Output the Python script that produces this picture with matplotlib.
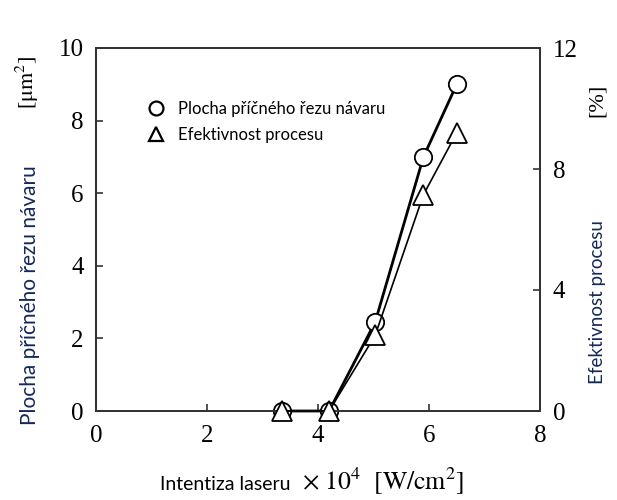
import matplotlib
matplotlib.use("Agg")
import matplotlib.pyplot as plt
from matplotlib.lines import Line2D

# data
intensity = [3.35, 4.2, 5.03, 5.9, 6.5]          # x 10^4 W/cm2
area = [0.0, 0.0, 2.45, 7.0, 9.0]                # um^2 (left axis)
intensity_eff = [3.35, 4.2, 5.03, 5.9, 6.5]
efficiency = [0.0, 0.0, 2.5, 7.15, 9.2]          # % (right axis)

xticks = [0, 2, 4, 6, 8]
yticks_left = [0, 2, 4, 6, 8, 10]
yticks_right = [0, 4, 8, 12]

serif = ["Liberation Serif", "DejaVu Serif"]
sans = ["Lato", "Noto Sans", "DejaVu Sans"]
navy = "#14285a"

fig = plt.figure(figsize=(6.17, 5.0), dpi=100)
ax = fig.add_axes([96 / 617, 89 / 500, 444 / 617, 363 / 500])
ax2 = ax.twinx()

ax.plot(intensity, area, color="black", lw=2.0, marker="o", ms=12.5,
        mfc="white", mec="black", mew=1.3, label="Plocha příčného řezu návaru", zorder=3)
ax2.plot(intensity_eff, efficiency, color="black", lw=1.2, marker="^", ms=14,
         mfc="white", mec="black", mew=1.3, label="Efektivnost procesu", zorder=3)

ax.set_xlim(0, 8)
ax.set_ylim(0, 10)
ax2.set_ylim(0, 12)
ax.set_xticks(xticks)
ax.set_yticks(yticks_left)
ax2.set_yticks(yticks_right)

for a in (ax, ax2):
    for s in a.spines.values():
        s.set_color("#333333")
        s.set_linewidth(1.4)

ax.tick_params(axis="both", direction="in", length=5, width=1.2, color="#333333",
               labelsize=18, pad=9)
ax.tick_params(axis="x", top=False, pad=10)
ax2.tick_params(axis="y", direction="in", length=5, width=1.2, color="#333333",
                labelsize=18, pad=9)
for lab in ax.get_xticklabels() + ax.get_yticklabels() + ax2.get_yticklabels():
    lab.set_family(serif)

# only inner ticks are drawn in the reference
for axis in (ax.xaxis, ax.yaxis, ax2.yaxis):
    ticks = axis.get_major_ticks()
    for t in (ticks[0], ticks[-1]):
        t.tick1line.set_visible(False)
        t.tick2line.set_visible(False)

for line in ax.get_lines() + ax2.get_lines():
    line.set_clip_on(False)

# legend
h1, l1 = ax.get_legend_handles_labels()
h2, l2 = ax2.get_legend_handles_labels()
hh = [Line2D([], [], ls="none", marker="o", ms=10, mfc="white", mec="black", mew=1.6),
      Line2D([], [], ls="none", marker="^", ms=10, mfc="white", mec="black", mew=1.6)]
leg = ax2.legend(hh, l1 + l2, loc="upper left", bbox_to_anchor=(133 / 617, 1 - 86 / 500),
                 bbox_transform=fig.transFigure, frameon=False, handlelength=1.0,
                 handletextpad=0.8, labelspacing=0.6, prop={"family": sans, "size": 12})

# axis labels
fig.text(30 / 617, 1 - 295 / 500, "Plocha příčného řezu návaru", rotation=90, ha="center",
         va="center", family=sans, fontsize=15, color=navy)
fig.text(27 / 617, 1 - 82 / 500, r"[$\mathrm{\mu m^2}$]", rotation=90, ha="center",
         va="center", family=serif, fontsize=16, math_fontfamily="stix")
fig.text(598 / 617, 1 - 302 / 500, "Efektivnost procesu", rotation=90, ha="center",
         va="center", family=sans, fontsize=13.5, color=navy)
fig.text(597 / 617, 1 - 100 / 500, "[%]", rotation=90, ha="center", va="center",
         family=serif, fontsize=16)
fig.text(290 / 617, 1 - 485 / 500, "Intentiza laseru", ha="right", va="center",
         family=sans, fontsize=14, color="black")
fig.text(302 / 617, 1 - 481 / 500, r"$\times\ 10^4\ \ [\mathrm{W/cm^2}]$", ha="left",
         va="center", fontsize=18.5, math_fontfamily="stix")

fig.savefig("out.png", dpi=100)
